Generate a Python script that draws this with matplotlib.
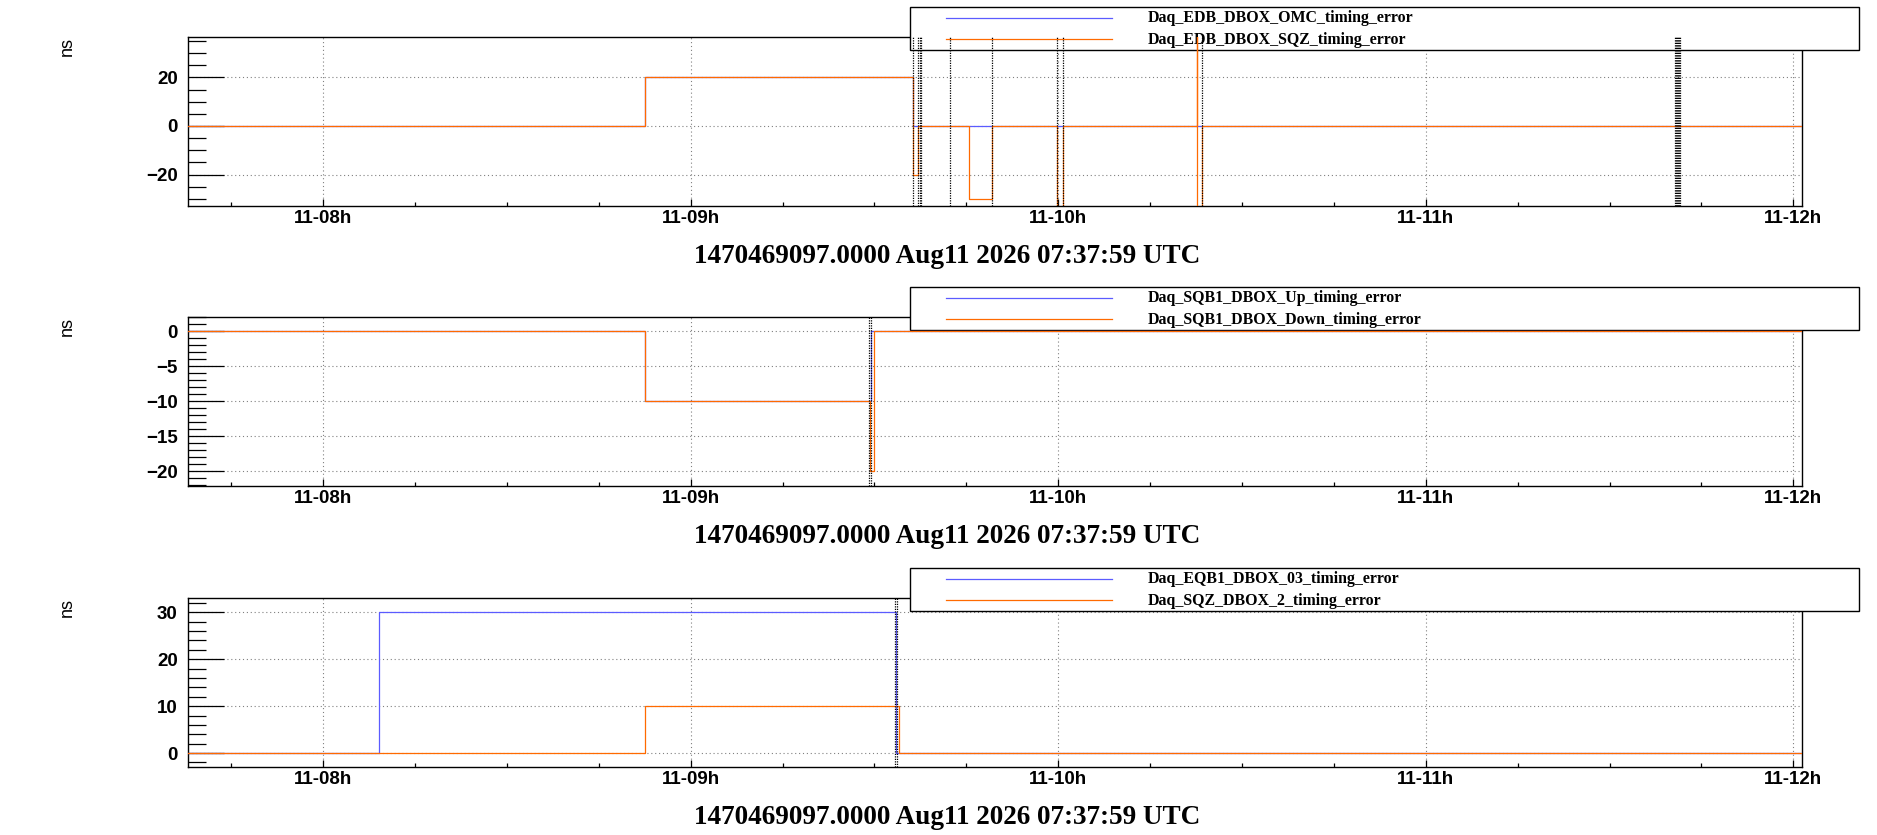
import matplotlib
matplotlib.use("Agg")
import matplotlib.pyplot as plt
import matplotlib.dates as mdates
from matplotlib.patches import Rectangle
from matplotlib.lines import Line2D
from matplotlib.ticker import MultipleLocator
import pandas as pd

W, H = 1877, 835
DAY = "2026-08-11 "
X_START = "07:37:59"
X_END = "12:01:28"
TITLE = "1470469097.0000 Aug11 2026 07:37:59 UTC"

BLUE = "#5b5bff"
ORANGE = "#ff6a00"

# panel 1 : EDB DBOX
p1_labels = ["Daq_EDB_DBOX_OMC_timing_error", "Daq_EDB_DBOX_SQZ_timing_error"]
p1_blue_t = ["07:37:59", "08:52:36", "09:36:19", "12:01:28"]
p1_blue_v = [0, 20, 0, 0]
p1_orange_t = ["07:37:59", "08:52:36", "09:36:19", "09:37:08", "09:45:25", "09:49:08",
               "09:59:50", "10:00:43", "10:22:36", "10:22:37", "10:23:25", "12:01:28"]
p1_orange_v = [0, 20, -20, 0, -30, 0, -40, 0, 40, -40, 0, 0]
p1_marks = ["09:36:19", "09:37:08", "09:37:25", "09:37:38", "09:42:19", "09:49:08",
            "09:59:50", "10:00:43", "10:23:25",
            "11:40:41", "11:40:51", "11:41:00", "11:41:10", "11:41:20", "11:41:27"]
p1_ylim = (-33.0, 36.5)
p1_ystep = (20, 5)

# panel 2 : SQB1 DBOX
p2_labels = ["Daq_SQB1_DBOX_Up_timing_error", "Daq_SQB1_DBOX_Down_timing_error"]
p2_blue_t = ["07:37:59", "08:52:36", "09:29:22", "12:01:28"]
p2_blue_v = [0, -10, 0, 0]
p2_orange_t = ["07:37:59", "08:52:36", "09:29:18", "09:29:57", "12:01:28"]
p2_orange_v = [0, -10, -20, 0, 0]
p2_marks = ["09:29:11", "09:29:26"]
p2_ylim = (-22.1, 2.0)
p2_ystep = (5, 1)

# panel 3 : EQB1 / SQZ
p3_labels = ["Daq_EQB1_DBOX_03_timing_error", "Daq_SQZ_DBOX_2_timing_error"]
p3_blue_t = ["07:37:59", "08:09:10", "09:33:27", "12:01:28"]
p3_blue_v = [0, 30, 0, 0]
p3_orange_t = ["07:37:59", "08:52:36", "09:34:02", "12:01:28"]
p3_orange_v = [0, 10, 0, 0]
p3_marks = ["09:33:23", "09:33:37"]
p3_ylim = (-3.0, 33.0)
p3_ystep = (10, 2)


def ts(times):
    return pd.to_datetime([DAY + t for t in times])


def fx(x):
    return x / W


def fy(y):
    return 1 - y / H


SANS = ["Liberation Sans", "DejaVu Sans"]
SERIF = ["Liberation Serif", "DejaVu Serif"]

fig = plt.figure(figsize=(W / 100, H / 100), dpi=100)

panels = [
    (p1_labels, p1_blue_t, p1_blue_v, p1_orange_t, p1_orange_v, p1_marks, p1_ylim, p1_ystep),
    (p2_labels, p2_blue_t, p2_blue_v, p2_orange_t, p2_orange_v, p2_marks, p2_ylim, p2_ystep),
    (p3_labels, p3_blue_t, p3_blue_v, p3_orange_t, p3_orange_v, p3_marks, p3_ylim, p3_ystep),
]
tops = [37.3, 317.3, 598.3]
ax_h = 168.8
left, right = 188.3, 1802.3

for (labels, bt, bv, ot, ov, marks, ylim, ystep), top in zip(panels, tops):
    ax = fig.add_axes([fx(left), fy(top + ax_h), (right - left) / W, ax_h / H])
    ax.plot(ts(bt), bv, drawstyle="steps-post", color=BLUE, lw=0.9, zorder=3)
    ax.plot(ts(ot), ov, drawstyle="steps-post", color=ORANGE, lw=0.9, zorder=3)
    for m in ts(marks):
        ax.axvline(m, color="k", lw=0.9, ls=(0, (1, 1)), zorder=3.1)

    ax.set_xlim(ts([X_START])[0], ts([X_END])[0])
    ax.set_ylim(*ylim)
    ax.xaxis.set_major_locator(mdates.HourLocator())
    ax.xaxis.set_minor_locator(mdates.MinuteLocator(byminute=[15, 30, 45]))
    ax.xaxis.set_major_formatter(mdates.DateFormatter("%d-%Hh"))
    ax.yaxis.set_major_locator(MultipleLocator(ystep[0]))
    ax.yaxis.set_minor_locator(MultipleLocator(ystep[1]))

    ax.tick_params(axis="y", which="major", direction="in", length=26, width=0.9, pad=7.6)
    ax.tick_params(axis="y", which="minor", direction="in", length=13, width=0.9)
    ax.tick_params(axis="x", which="major", direction="in", length=5, width=0.9, pad=3)
    ax.tick_params(axis="x", which="minor", direction="in", length=3, width=0.9)
    for lab in ax.get_xticklabels() + ax.get_yticklabels():
        lab.set_fontfamily(SANS)
        lab.set_fontweight("bold")
        lab.set_fontsize(13.5)
    for sp in ax.spines.values():
        sp.set_linewidth(1.0)
    ax.set_axisbelow(True)
    ax.grid(True, which="major", color="#808080", lw=0.8, ls=(0, (1, 2.5)))

    # legend box, sitting over the top of the frame
    box = Rectangle((fx(910), fy(top + 12.7)), (1859.3 - 910) / W, 42.7 / H,
                    transform=fig.transFigure, facecolor="white", edgecolor="k",
                    lw=1.0, clip_on=False, zorder=2.6)
    ax.add_patch(box)
    for k, (lab, col) in enumerate(zip(labels, [BLUE, ORANGE])):
        ry = top - 30 + 10.3 + 21.5 * k
        ax.add_line(Line2D([fx(946), fx(1111.7)], [fy(ry), fy(ry)], color=col, lw=0.9,
                           transform=fig.transFigure, clip_on=False, zorder=2.7))
        ax.text(fx(1147.3), fy(ry + 4.5), lab, transform=fig.transFigure, ha="left",
                va="baseline", fontsize=11.45, fontweight="bold", family=SERIF,
                zorder=2.8, clip_on=False)

    fig.text(0.036, fy(top), "ns", rotation=90, ha="center", va="top",
             fontsize=13, family=SANS)
    fig.text(0.5045, fy(top + 226), TITLE, ha="center", va="baseline",
             fontsize=19.5, fontweight="bold", family=SERIF)

fig.savefig("out.png", dpi=100)
